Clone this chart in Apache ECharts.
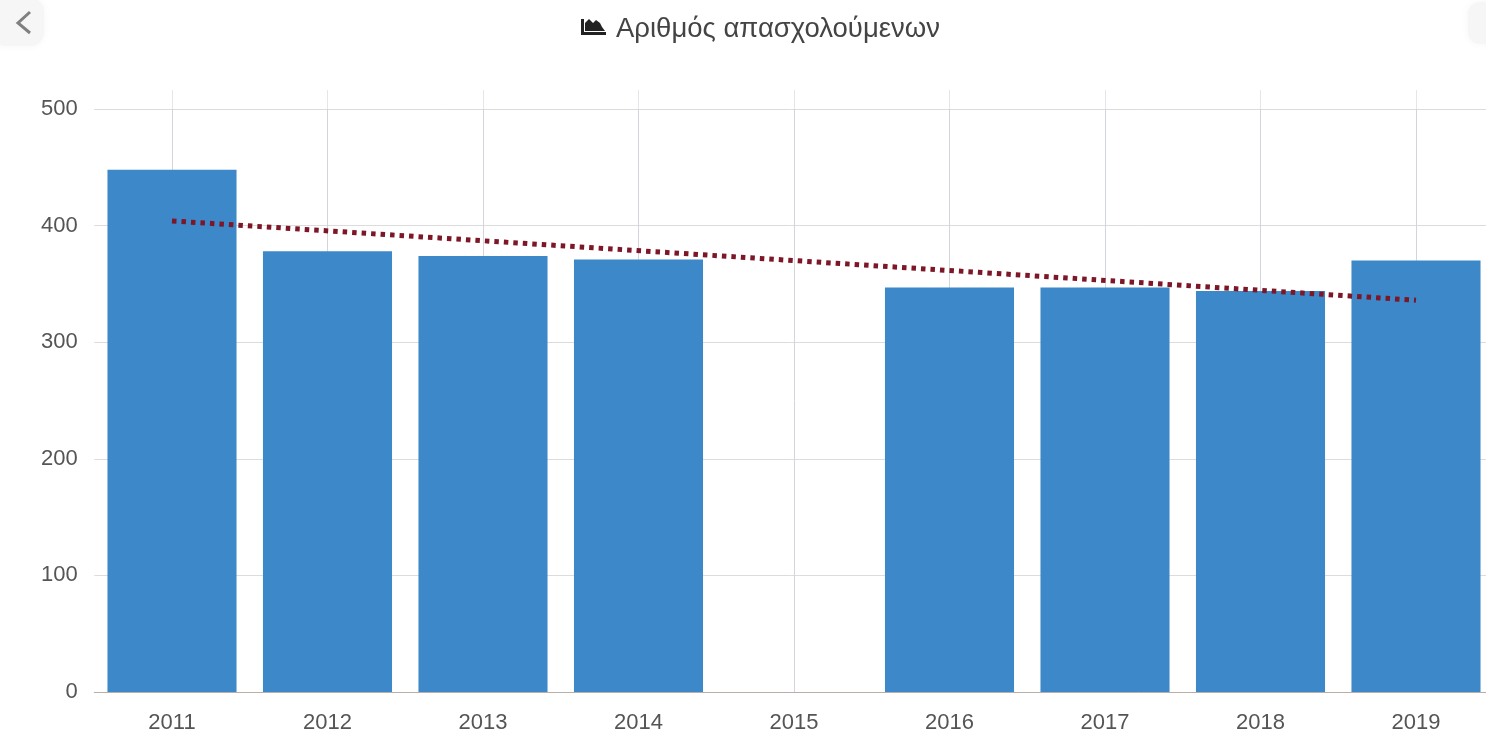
<!DOCTYPE html>
<html><head><meta charset="utf-8">
<style>html,body{margin:0;padding:0;background:#fff;overflow:hidden}#c{width:1486px;height:731px}</style>
<script src="https://cdn.jsdelivr.net/npm/echarts@6/dist/echarts.min.js"></script>
</head><body><div id="c"></div>
<script>
const titleText = 'Αριθμός απασχολούμενων';
const years = ['2011','2012','2013','2014','2015','2016','2017','2018','2019'];
const employees = [448,378,374,371,null,347,347,344,370];
const trend = [404,null,null,null,null,null,null,null,336];
const FONT = '"Liberation Sans", Arial, sans-serif';
const chart = echarts.init(document.getElementById('c'));
chart.setOption({
  animation:false,
  backgroundColor:'#fff',
  grid:{left:94.25,width:1399.5,top:109,height:583,containLabel:false,outerBoundsMode:'none'},
  title:{text:titleText,left:611,top:10,textStyle:{fontFamily:FONT,fontWeight:'normal',fontSize:27.5,color:'#444'}},
  graphic:[
    {type:'rect',x:-8,y:-2,shape:{width:52,height:48,r:14},style:{fill:'#f6f6f6',shadowBlur:8,shadowColor:'#f6f6f6'},z:0},
    {type:'polyline',shape:{points:[[30,12],[18,23],[30,33]]},style:{stroke:'#808080',lineWidth:3,fill:null},z:1},
    {type:'rect',x:1468,y:2,shape:{width:40,height:42,r:12},style:{fill:'#f6f6f6',shadowBlur:8,shadowColor:'#f6f6f6'},z:0},
    {type:'polygon',shape:{points:[[581,35],[606,35],[606,32],[584,32],[584,19],[581,19]]},style:{fill:'#222'},z:1},
    {type:'polygon',shape:{points:[[585,31],[585,23],[589,19],[593,23],[596,20],[600,23],[602,27],[605,31]]},style:{fill:'#222'},z:1}
  ],
  xAxis:[{
    type:'category',data:years,
    axisLine:{show:true,lineStyle:{color:'#b8b0a8',width:1}},
    axisTick:{show:false},
    axisLabel:{fontFamily:FONT,fontSize:22,color:'#555',margin:20},
    splitLine:{show:true,alignWithLabel:true,lineStyle:{color:'#d4d4dc',width:1}}
  },{
    type:'category',data:years,position:'top',
    axisLine:{show:false},
    axisLabel:{show:false},
    axisTick:{show:true,alignWithLabel:true,length:19,lineStyle:{color:'#e6e6ea',width:1}},
    splitLine:{show:false}
  }],
  yAxis:{
    type:'value',min:0,max:500,interval:100,
    axisLine:{show:false},axisTick:{show:false},
    axisLabel:{fontFamily:FONT,fontSize:22,color:'#555',margin:16.5},
    splitLine:{lineStyle:{color:'#dcdcdc',width:1}}
  },
  series:[
    {type:'bar',data:employees,barCategoryGap:'17%',itemStyle:{color:'#3d88c9'},z:2},
    {type:'line',data:trend,connectNulls:true,showSymbol:false,symbol:'none',z:3,
     lineStyle:{color:'#7d1626',width:5,type:[4.5,5]}}
  ]
});
</script></body></html>
